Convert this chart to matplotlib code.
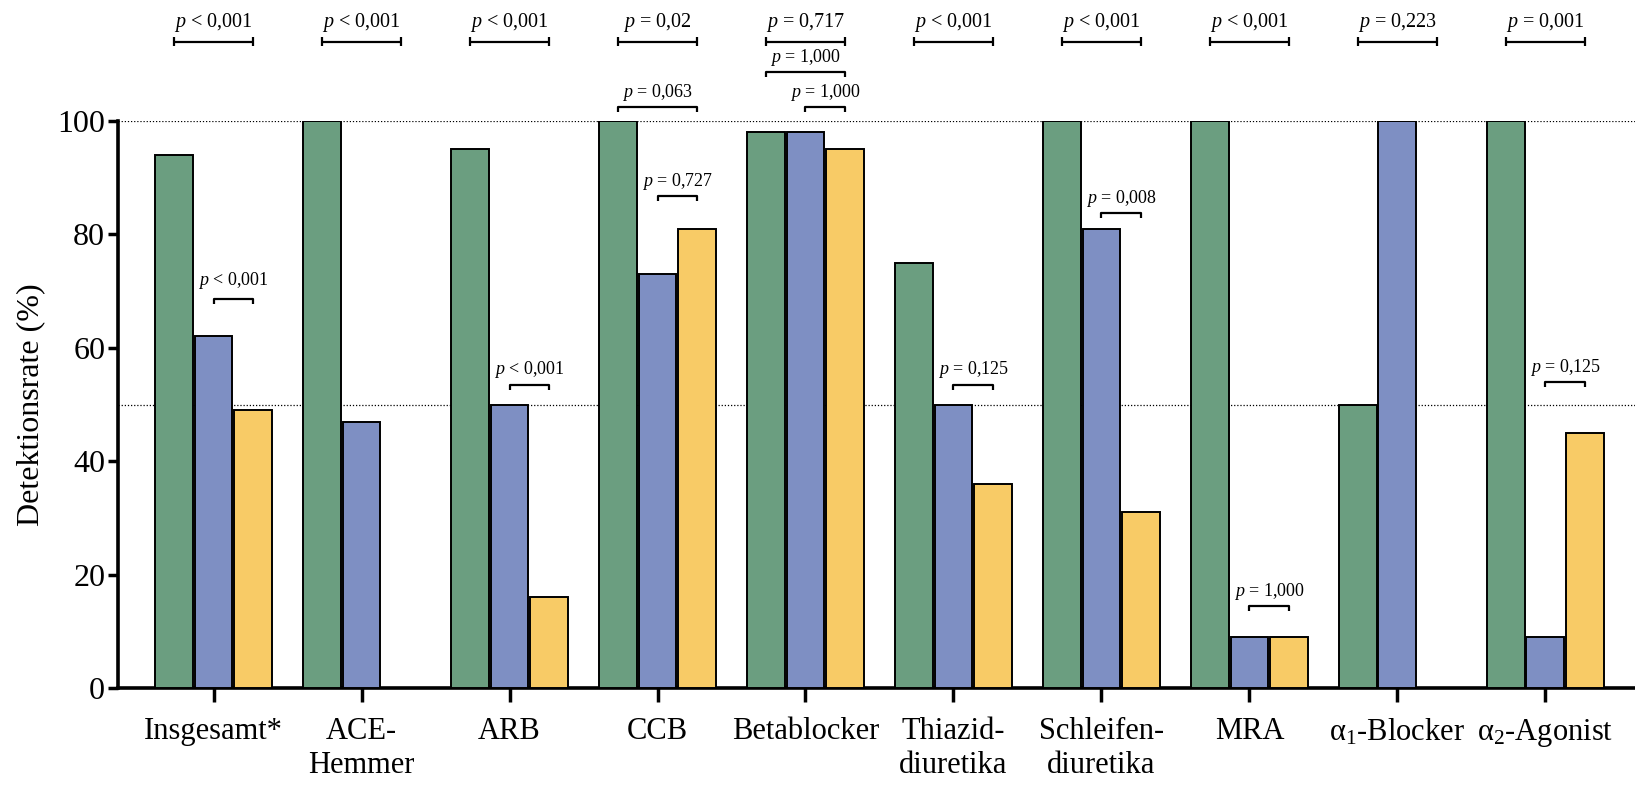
import numpy as np
import matplotlib
matplotlib.use("Agg")
import matplotlib.pyplot as plt

plt.rcParams['font.family'] = ['Liberation Serif', 'DejaVu Serif']
plt.rcParams['mathtext.fontset'] = 'custom'
plt.rcParams['mathtext.rm'] = 'Liberation Serif'
plt.rcParams['mathtext.it'] = 'Liberation Serif:italic'

categories = ["Insgesamt*", "ACE-\nHemmer", "ARB", "CCB", "Betablocker",
              "Thiazid-\ndiuretika", "Schleifen-\ndiuretika", "MRA",
              "α$_1$-Blocker", "α$_2$-Agonist"]
green_vals = [94, 100, 95, 100, 98, 75, 100, 100, 50, 100]
blue_vals = [62, 47, 50, 73, 98, 50, 81, 9, 100, 9]
yellow_vals = [49, np.nan, 16, 81, 95, 36, 31, 9, np.nan, 45]
yticks = [0, 20, 40, 60, 80, 100]

# top comparisons (green vs yellow position), one per group
top_pvals = ["< 0,001", "< 0,001", "< 0,001", "= 0,02", "= 0,717",
             "< 0,001", "< 0,001", "< 0,001", "= 0,223", "= 0,001"]
# lower comparisons: (group, from series, to series, bracket height, p text)
low_groups = [0, 2, 3, 3, 4, 4, 5, 6, 7, 9]
low_from = [1, 1, 0, 1, 0, 1, 1, 1, 1, 1]
low_to = [2, 2, 2, 2, 2, 2, 2, 2, 2, 2]
low_heights = [68.6, 53.5, 102.5, 86.8, 108.6, 102.5, 53.5, 83.8, 14.5, 54.0]
low_pvals = ["< 0,001", "< 0,001", "= 0,063", "= 0,727", "= 1,000",
             "= 1,000", "= 0,125", "= 0,008", "= 1,000", "= 0,125"]

colors = ["#6b9e80", "#7e8fc3", "#f8cb66"]

fig = plt.figure(figsize=(16.35, 7.86), dpi=100)
ax = fig.add_axes([0.072, 0.1247, 0.928, 0.7213])

x = np.arange(len(categories))
w = 0.255
off = 0.268
series = [green_vals, blue_vals, yellow_vals]
for i, (vals, c) in enumerate(zip(series, colors)):
    ax.bar(x + (i - 1) * off, vals, width=w, color=c, edgecolor="black",
           linewidth=1.4, zorder=3)

ax.axhline(100, color="black", linestyle=(0, (1, 1.5)), linewidth=0.9, zorder=1)
ax.axhline(50, color="black", linestyle=(0, (1, 1.5)), linewidth=0.9, zorder=1)

ax.set_xlim(-0.648, 9.606)
ax.set_ylim(0, 100)
ax.set_yticks(yticks)
ax.set_yticklabels([str(t) for t in yticks], fontsize=23)
ax.set_xticks(x)
ax.set_xticklabels(categories, fontsize=22, linespacing=1.2)
ax.tick_params(axis="y", direction="out", length=7, width=2.5, pad=2)
ax.tick_params(axis="x", direction="out", length=10, width=2.5, pad=11)
ax.set_ylabel("Detektionsrate (%)", fontsize=23, labelpad=9)

for s in ["top", "right"]:
    ax.spines[s].set_visible(False)
ax.spines["left"].set_linewidth(2.6)
ax.spines["bottom"].set_linewidth(2.6)

lk = dict(color="black", linewidth=1.6, clip_on=False, zorder=4,
          solid_capstyle="butt")

# top brackets with caps
ytop = 114.0
for g, pv in enumerate(top_pvals):
    x1 = g - off
    x2 = g + off
    ax.plot([x1, x2], [ytop, ytop], **lk)
    ax.plot([x1, x1], [ytop - 0.8, ytop + 0.8], **lk)
    ax.plot([x2, x2], [ytop - 0.8, ytop + 0.8], **lk)
    ax.text(g, ytop + 2.6, "$p$ " + pv, ha="center", va="baseline",
            fontsize=14.5, clip_on=False)

# lower brackets (hooks downward)
for g, a, b, h, pv in zip(low_groups, low_from, low_to, low_heights, low_pvals):
    x1 = g + (a - 1) * off
    x2 = g + (b - 1) * off
    ax.plot([x1, x1, x2, x2], [h - 0.9, h, h, h - 0.9], **lk)
    dy = 2.5 if g == 0 else 1.8
    ax.text((x1 + x2) / 2, h + dy, "$p$ " + pv, ha="center", va="baseline",
            fontsize=13, clip_on=False)

fig.savefig("out.png", dpi=100)
